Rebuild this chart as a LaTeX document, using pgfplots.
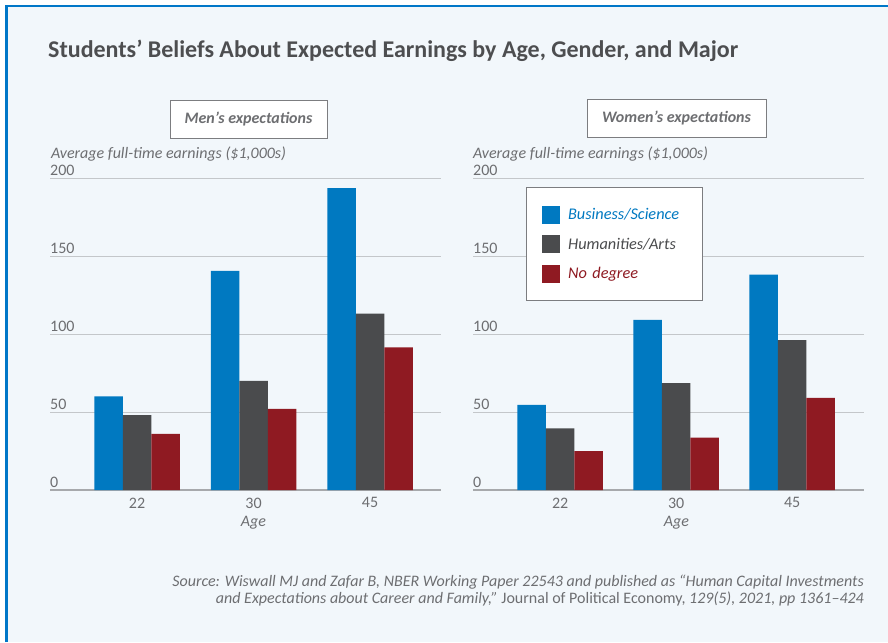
\documentclass[border=0pt]{standalone}
\usepackage{pgfplots}
\pgfplotsset{compat=1.18}
\usepackage{fontspec}
\setmainfont{Carlito}
\definecolor{bg}{HTML}{F2F7FB}
\definecolor{frameblue}{HTML}{0077C8}
\definecolor{cblue}{HTML}{0079C1}
\definecolor{cgray}{HTML}{4A4B4D}
\definecolor{cred}{HTML}{8F1A22}
\definecolor{titlegray}{HTML}{4D4E50}
\definecolor{ticktext}{HTML}{6D6E71}
\definecolor{gridc}{HTML}{C4C7CA}
\definecolor{basec}{HTML}{A7A9AC}
\definecolor{boxborder}{HTML}{7C7D80}

\pgfplotsset{
  panel/.style={
    anchor=south west, scale only axis, width=391pt, height=312pt,
    ymin=0, ymax=200, ytick={0,50,100,150,200},
    xtick={0,1,2}, xticklabels={22,30,45},
    ybar=0pt, bar width=28.5pt,
    axis x line*=bottom, axis y line*=left,
    y axis line style={draw=none},
    x axis line style={draw=basec, line width=1.6pt, -},
    ymajorgrids, grid style={draw=gridc, line width=0.9pt},
    major tick length=0pt,
    tick label style={font=\fontsize{16}{18}\selectfont, text=ticktext},
    /pgf/number format/assume math mode=true,
    yticklabel style={anchor=south west, inner sep=0pt, yshift=2.5pt},
    xticklabel style={inner sep=0pt, yshift=-7.5pt},
    xlabel={Age},
    xlabel style={at={(ticklabel cs:0.52)}, anchor=near ticklabel,
      font=\fontsize{16}{18}\selectfont\itshape, text=ticktext, inner sep=0pt, yshift=-8pt},
    every axis plot/.append style={draw=none},
  }
}

\begin{document}
\begin{tikzpicture}
\useasboundingbox (0,0) rectangle (888pt,-642pt);
\fill[white] (0,0) rectangle (888pt,-642pt);
\fill[bg] (5pt,-5pt) rectangle (888pt,-642pt);
\draw[frameblue, line width=2.5pt] (6.25pt,-642pt) -- (6.25pt,-6.25pt) -- (888pt,-6.25pt);

\node[anchor=base west, inner sep=0pt, text=titlegray, font=\fontsize{24}{28}\selectfont\bfseries]
  at (48pt,-57pt) {Students’ Beliefs About Expected Earnings by Age, Gender, and Major};

% Men's panel
\begin{axis}[panel, at={(50pt,-490pt)}, xmin=-0.747, xmax=2.609]
\addplot[fill=cblue] coordinates {(0,60) (1,140.5) (2,193.5)};
\addplot[fill=cgray] coordinates {(0,48) (1,70) (2,113)};
\addplot[fill=cred] coordinates {(0,36) (1,52) (2,91.5)};
\end{axis}

% Women's panel
\begin{axis}[panel, at={(473pt,-490pt)}, xmin=-0.752, xmax=2.62,
  legend style={at={(0.1348,0.9702)}, anchor=north west, draw=boxborder, line width=0.8pt,
    fill=white, inner xsep=16pt, inner ysep=18pt, row sep=11.5pt,
    font=\fontsize{16.3}{18}\selectfont\itshape,
    nodes={inner sep=0pt, text width=118pt, align=left}},
  legend cell align=left,
  legend image code/.code={\fill[#1] (0pt,-9pt) rectangle (18pt,9pt); \path (26pt,0pt);}]
\addplot[fill=cblue] coordinates {(0,54.5) (1,109) (2,138)};
\addplot[fill=cgray] coordinates {(0,39.5) (1,68.5) (2,96)};
\addplot[fill=cred] coordinates {(0,25) (1,33.5) (2,59)};
\legend{\textcolor{cblue}{Business/Science},\textcolor{cgray}{Humanities/Arts},\textcolor{cred}{No degree}}
\end{axis}

% y-axis titles
\node[anchor=base west, inner sep=0pt, text=ticktext, font=\fontsize{16}{18}\selectfont\itshape]
  at (51pt,-158pt) {Average full-time earnings (\$1,000s)};
\node[anchor=base west, inner sep=0pt, text=ticktext, font=\fontsize{16}{18}\selectfont\itshape]
  at (473pt,-158pt) {Average full-time earnings (\$1,000s)};

% panel title boxes
\draw[boxborder, fill=white, line width=0.9pt] (170pt,-100pt) rectangle (327pt,-138pt);
\node[text=ticktext, font=\fontsize{16}{18}\selectfont\bfseries\itshape] at (248.5pt,-119pt) {Men’s expectations};
\draw[boxborder, fill=white, line width=0.9pt] (587pt,-99pt) rectangle (766pt,-137pt);
\node[text=ticktext, font=\fontsize{16}{18}\selectfont\bfseries\itshape] at (676.5pt,-118pt) {Women’s expectations};

% source
\node[anchor=north east, inner sep=0pt, align=right, text=ticktext, font=\fontsize{16}{17}\selectfont\itshape]
  at (864pt,-575pt) {Source: Wiswall MJ and Zafar B, NBER Working Paper 22543 and published as “Human Capital Investments\\
  and Expectations about Career and Family,” {\upshape Journal of Political Economy,} 129(5), 2021, pp 1361–424};
\end{tikzpicture}
\end{document}
